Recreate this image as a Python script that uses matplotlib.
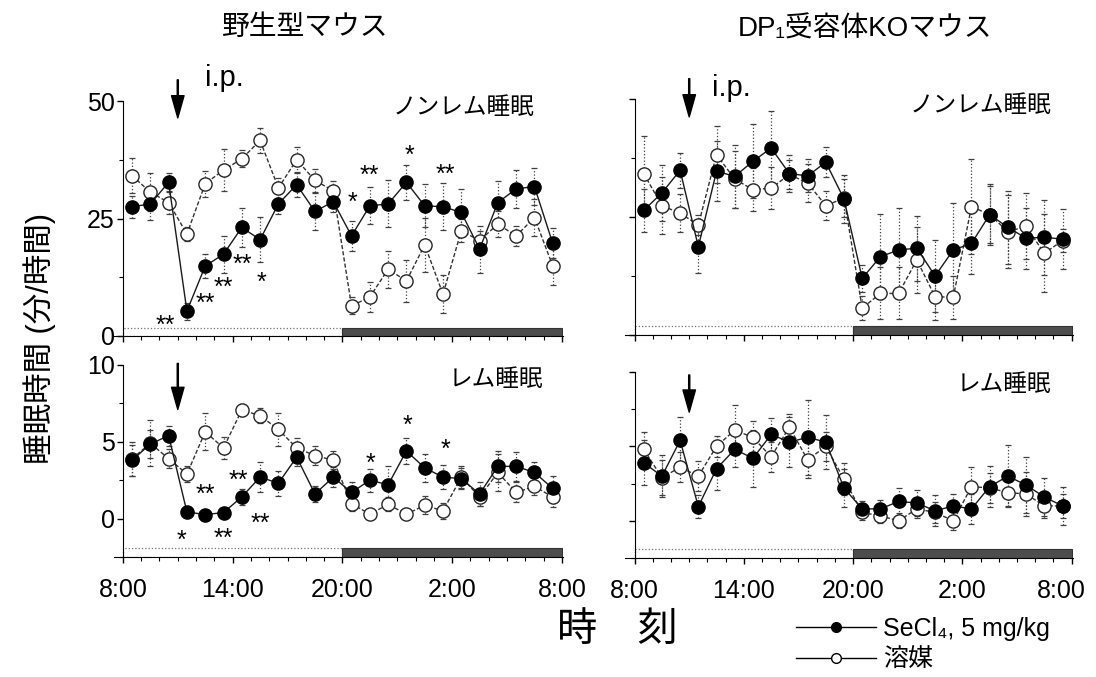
import numpy as np
import matplotlib
matplotlib.use("Agg")
import matplotlib.pyplot as plt
from matplotlib.patches import Rectangle
from matplotlib.lines import Line2D
from matplotlib.ticker import MultipleLocator
from matplotlib.transforms import ScaledTranslation

# latinica iz Liberation Sans, japanski znakovi padaju na Noto CJK
plt.rcParams['font.family'] = ['Liberation Sans', 'Noto Sans CJK JP', 'DejaVu Sans']

# sredina svakog sata, sati od 8:00
sati = np.arange(24) + 0.5
oznake_x = ["8:00", "14:00", "20:00", "2:00", "8:00"]

# ---- divlji tip (野生型), NREM ----
wt_nrem_secl4 = [27.5, 28.1, 32.7, 5.3, 14.9, 17.4, 23.1, 20.5, 28.1, 32.2, 26.5, 28.6,
                 21.3, 27.7, 28.1, 32.7, 27.7, 27.5, 26.3, 18.5, 28.4, 31.3, 31.8, 19.7]
wt_nrem_secl4_se = [2.3, 3.5, 2.0, 1.8, 2.5, 3.9, 4.2, 4.8, 2.1, 2.6, 3.9, 2.3,
                    3.2, 3.9, 5.0, 3.7, 4.6, 5.0, 5.0, 5.0, 4.6, 4.0, 4.0, 3.2]
wt_nrem_nosac = [34.1, 30.6, 28.4, 21.7, 32.4, 35.3, 37.7, 41.6, 31.5, 37.5, 33.1, 30.9,
                 6.4, 8.3, 14.2, 11.7, 19.4, 8.9, 22.4, 20.3, 23.8, 21.3, 25.2, 14.9]
wt_nrem_nosac_se = [3.7, 4.0, 2.5, 1.4, 2.8, 4.4, 1.8, 2.7, 2.1, 2.8, 2.5, 2.1,
                    1.8, 3.2, 3.9, 4.4, 5.7, 4.0, 2.5, 2.1, 2.7, 2.1, 3.9, 4.0]

# ---- divlji tip, REM ----
wt_rem_secl4 = [3.8, 4.85, 5.4, 0.43, 0.26, 0.39, 1.41, 2.7, 2.3, 4.0, 1.6, 2.7,
                1.7, 2.5, 2.2, 4.4, 3.3, 2.7, 2.6, 1.6, 3.4, 3.4, 3.0, 1.96]
wt_rem_secl4_se = [1.0, 0.9, 0.65, 0.3, 0.3, 0.3, 0.5, 1.0, 0.8, 0.6, 0.55, 0.65,
                   0.7, 0.75, 1.2, 0.85, 0.9, 0.8, 0.7, 0.8, 1.0, 0.95, 0.7, 0.8]
wt_rem_nosac = [3.9, 4.9, 3.9, 2.9, 5.65, 4.6, 7.07, 6.7, 5.8, 4.6, 4.1, 3.8,
                0.98, 0.28, 0.93, 0.28, 0.87, 0.5, 2.7, 1.4, 3.0, 1.7, 2.1, 1.4]
wt_rem_nosac_se = [1.1, 1.5, 0.6, 0.55, 1.2, 0.7, 0.4, 0.5, 1.1, 0.65, 0.6, 0.6,
                   0.5, 0.3, 0.45, 0.3, 0.6, 0.5, 0.7, 0.6, 1.2, 0.65, 0.55, 0.65]

# ---- DP1 KO, NREM ----
ko_nrem_secl4 = [26.4, 30.1, 34.9, 18.7, 34.7, 33.6, 36.8, 39.6, 34.2, 33.7, 36.6, 28.8,
                 12.0, 16.6, 18.0, 18.4, 12.5, 18.0, 19.4, 25.5, 22.8, 20.5, 20.7, 20.3]
ko_nrem_secl4_se = [4.6, 6.0, 3.7, 5.6, 6.4, 6.7, 7.8, 7.9, 4.0, 3.5, 3.2, 5.0,
                    2.8, 9.0, 9.0, 6.9, 7.6, 10.0, 6.4, 6.5, 7.8, 6.5, 8.0, 6.4]
ko_nrem_nosac = [34.2, 27.4, 25.8, 23.3, 38.2, 33.0, 30.8, 31.1, 34.0, 32.2, 27.4, 29.0,
                 5.7, 8.8, 8.8, 15.9, 8.1, 8.0, 27.2, 25.5, 21.9, 23.0, 17.3, 20.0]
ko_nrem_nosac_se = [8.0, 6.0, 4.0, 2.2, 6.0, 6.0, 4.5, 4.5, 3.0, 4.0, 3.0, 4.0,
                    2.6, 5.5, 5.5, 7.0, 5.0, 4.6, 10.0, 6.0, 7.8, 7.0, 8.3, 2.5]

# ---- DP1 KO, REM ----
ko_rem_secl4 = [3.9, 3.0, 5.4, 0.96, 3.5, 4.8, 4.2, 5.8, 5.3, 5.6, 5.3, 2.2,
                0.8, 0.8, 1.3, 1.2, 0.67, 1.0, 0.8, 2.3, 3.0, 2.4, 1.6, 1.0]
ko_rem_secl4_se = [1.5, 1.4, 1.6, 0.8, 1.4, 1.2, 1.9, 1.1, 1.7, 2.5, 1.8, 1.3,
                   0.55, 0.6, 0.9, 0.85, 1.05, 0.8, 1.0, 1.4, 2.1, 1.9, 1.3, 1.3]
ko_rem_nosac = [4.8, 2.9, 3.6, 3.0, 5.0, 6.1, 5.6, 4.3, 6.3, 4.1, 5.0, 2.8,
                0.56, 0.33, 0.0, 0.8, 0.56, 0.0, 2.3, 2.2, 1.9, 1.8, 1.0, 1.0]
ko_rem_nosac_se = [1.2, 1.2, 1.0, 1.0, 0.7, 1.7, 1.1, 1.0, 0.9, 1.2, 1.0, 1.1,
                   0.5, 0.5, 0.5, 0.6, 0.7, 0.6, 1.3, 1.0, 0.9, 1.5, 0.8, 0.8]

# zvjezdice (p vrijednosti) samo kod divljeg tipa
wt_nrem_zvj = [(2.3, 3.6, "**"), (4.5, 8.2, "**"), (5.5, 11.7, "**"), (6.55, 16.7, "**"),
               (7.6, 12.8, "*"), (12.55, 29.9, "*"), (13.5, 35.6, "**"), (15.65, 39.8, "*"),
               (17.65, 35.8, "**")]
wt_rem_zvj = [(3.2, -1.0, "*"), (4.5, 2.0, "**"), (5.5, -0.9, "**"), (6.3, 2.9, "**"),
              (7.5, 0.1, "**"), (13.55, 4.0, "*"), (15.55, 6.5, "*"), (17.65, 4.9, "*")]


def nacrtaj_seriju(ax, y, se, puni):
    # error bar ide ispod kruga, tockasta linija
    eb = ax.errorbar(sati, y, yerr=se, fmt="none", ecolor="0.25", elinewidth=0.9,
                     capsize=2, capthick=0.9, zorder=2)
    eb.lines[2][0].set_linestyle(":")
    if puni:
        ax.plot(sati, y, "-", color="0.1", lw=1.0, marker="o", ms=9.5,
                mfc="black", mec="black", zorder=4)
    else:
        ax.plot(sati, y, color="0.2", lw=1.0, ls=(0, (3, 1.5)), marker="o", ms=9.5,
                mfc="white", mec="0.15", mew=1.0, zorder=3)


def nacrtaj_panel(ax, ymin, ymax, korak, y_puni, se_puni, y_prazni, se_prazni, traka_h):
    nacrtaj_seriju(ax, y_prazni, se_prazni, False)
    nacrtaj_seriju(ax, y_puni, se_puni, True)

    # svjetlo / tama traka
    ax.add_patch(Rectangle((0, ymin), 12, traka_h, facecolor="white", edgecolor="0.45",
                           ls=":", lw=0.9, zorder=1))
    ax.add_patch(Rectangle((12, ymin), 12, traka_h, facecolor="0.3", edgecolor="0.2",
                           lw=0.8, zorder=1))

    ax.set_xlim(-0.5, 24.05)
    ax.set_ylim(ymin, ymax)
    ax.spines["top"].set_visible(False)
    ax.spines["right"].set_visible(False)
    ax.spines["left"].set_position(("data", 0))
    ax.spines["left"].set_bounds(ymin, ymax)
    ax.set_xticks([0, 6, 12, 18, 24])
    ax.set_xticklabels(oznake_x)
    ax.xaxis.set_minor_locator(MultipleLocator(1))
    ax.set_yticks([t for t in np.arange(0, ymax + 0.01, korak)])
    ax.yaxis.set_minor_locator(MultipleLocator(korak / 2))
    ax.tick_params(which="major", direction="out", length=4, width=1, labelsize=18, pad=2)
    ax.tick_params(which="minor", direction="out", length=3, width=0.8)
    ax.tick_params(axis="x", which="major", pad=11)


def zvjezdice(ax, lista):
    for x, y, s in lista:
        ax.annotate(s, (x, y), xytext=(0, -10), textcoords="offset points",
                    ha="center", va="baseline", fontsize=18)


fig = plt.figure(figsize=(10.96, 6.77), dpi=100)

ax1 = fig.add_axes([0.1038, 0.5037, 0.4097, 0.3471])
ax2 = fig.add_axes([0.1038, 0.1773, 0.4097, 0.2836])
ax3 = fig.add_axes([0.5707, 0.5052, 0.4079, 0.3486])
ax4 = fig.add_axes([0.5707, 0.1758, 0.4079, 0.2747])

nacrtaj_panel(ax1, 0, 50, 25, wt_nrem_secl4, wt_nrem_secl4_se, wt_nrem_nosac, wt_nrem_nosac_se, 1.8)
nacrtaj_panel(ax2, -2.5, 10, 5, wt_rem_secl4, wt_rem_secl4_se, wt_rem_nosac, wt_rem_nosac_se, 0.6)
nacrtaj_panel(ax3, 0, 50, 25, ko_nrem_secl4, ko_nrem_secl4_se, ko_nrem_nosac, ko_nrem_nosac_se, 1.8)
nacrtaj_panel(ax4, -2.5, 10, 5, ko_rem_secl4, ko_rem_secl4_se, ko_rem_nosac, ko_rem_nosac_se, 0.6)

for ax in (ax1, ax3):
    ax.tick_params(labelbottom=False)
for ax in (ax3, ax4):
    ax.tick_params(labelleft=False)

# zadnji "8:00" desno malo ulijevo da ne bude odrezan
zadnja = ax4.get_xticklabels()[-1]
zadnja.set_transform(zadnja.get_transform() + ScaledTranslation(-0.1, 0, fig.dpi_scale_trans))

zvjezdice(ax1, wt_nrem_zvj)
zvjezdice(ax2, wt_rem_zvj)

# strelice za i.p. injekciju u 11:00
strelica = dict(facecolor="black", edgecolor="black", width=0.8, headwidth=9, headlength=16, shrink=0)
ax1.annotate("", xy=(3, 46.4), xytext=(3, 54.5), arrowprops=strelica, annotation_clip=False)
ax3.annotate("", xy=(3, 46.2), xytext=(3, 54.3), arrowprops=strelica, annotation_clip=False)
ax2.annotate("", xy=(3, 7.1), xytext=(3, 10.1), arrowprops=strelica, annotation_clip=False)
ax4.annotate("", xy=(3, 7.3), xytext=(3, 9.8), arrowprops=strelica, annotation_clip=False)
fig.text(0.187, 0.885, "i.p.", fontsize=21, va="center", ha="left")
fig.text(0.650, 0.870, "i.p.", fontsize=21, va="center", ha="left")

ax1.text(22.5, 48.5, "ノンレム睡眠", fontsize=17, ha="right", va="center")
ax3.text(22.9, 48.5, "ノンレム睡眠", fontsize=17, ha="right", va="center")
ax2.text(23.0, 9.0, "レム睡眠", fontsize=17, ha="right", va="center")
ax4.text(22.9, 9.1, "レム睡眠", fontsize=17, ha="right", va="center")

fig.text(0.278, 0.958, "野生型マウス", fontsize=20, ha="center", va="center")
fig.text(0.789, 0.956, "DP₁受容体KOマウス", fontsize=20, ha="center", va="center")
fig.text(0.036, 0.50, "睡眠時間 (分/時間)", fontsize=22, rotation=90, ha="center", va="center")
fig.text(0.563, 0.069, "時　刻", fontsize=29, ha="center", va="center")

# legenda
rucke = [Line2D([], [], color="black", lw=1, marker="o", ms=7, mfc="black", mec="black"),
         Line2D([], [], color="black", lw=1, marker="o", ms=7, mfc="white", mec="black")]
fig.legend(rucke, ["SeCl₄, 5 mg/kg", "溶媒"], loc="upper left",
           bbox_to_anchor=(0.726, 0.089), frameon=False, fontsize=18,
           handlelength=3.2, handletextpad=0.3, labelspacing=0.3, borderpad=0,
           borderaxespad=0)

fig.savefig("out.png", dpi=100)
